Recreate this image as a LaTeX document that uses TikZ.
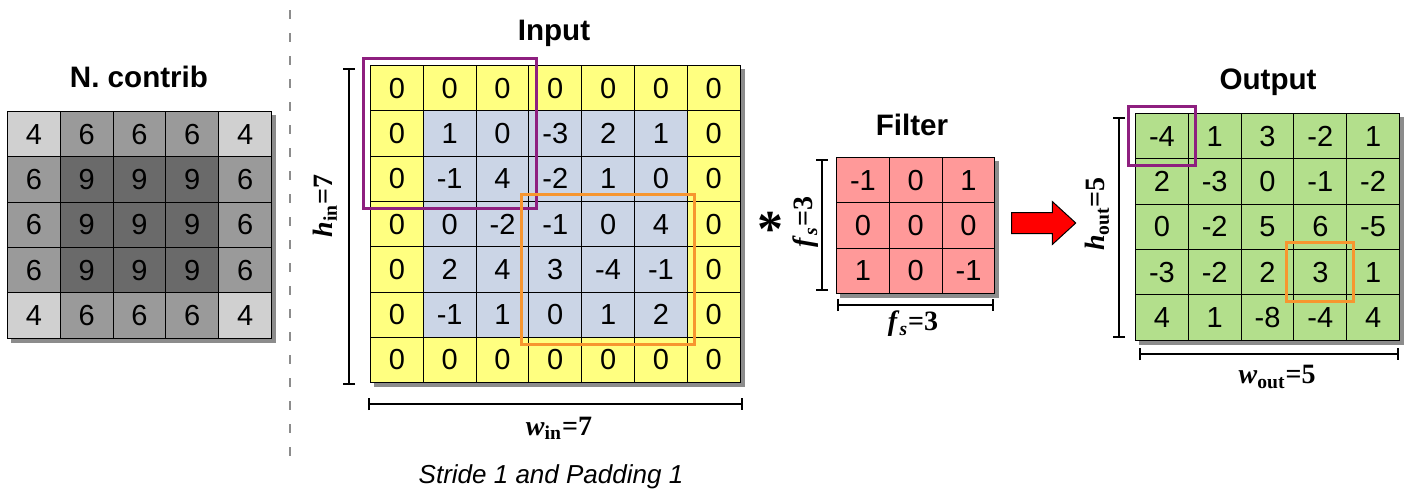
\documentclass[tikz,border=0pt]{standalone}
\usepackage{fontspec}
\setmainfont{Liberation Sans}
\newfontfamily\labfont{Liberation Serif}
\usepackage{tikz}
\usetikzlibrary{arrows.meta, positioning, fit, calc, shapes.arrows, backgrounds}

\definecolor{nc4}{HTML}{D0D0D0}
\definecolor{nc6}{HTML}{9A9A9A}
\definecolor{nc9}{HTML}{6A6A6A}
\definecolor{padyellow}{HTML}{FFFF80}
\definecolor{inblue}{HTML}{CBD5E6}
\definecolor{filtpink}{HTML}{FF9999}
\definecolor{outgreen}{HTML}{B3DF8C}
\definecolor{winpurple}{HTML}{8E1F7F}
\definecolor{winorange}{HTML}{F7962F}

\newcommand{\dimlab}[3]{{\labfont\bfseries\textit{#1}\textsubscript{#2}=#3}}

\begin{document}
\begin{tikzpicture}[x=0.5pt, y=-0.5pt,
  cell/.style={draw, line width=0.5pt, minimum width=26.4pt, minimum height=22.65pt, inner sep=0pt, anchor=north west, font=\fontsize{14.5}{16}\selectfont, fill=#1},
  gridtitle/.style={font=\bfseries\fontsize{14.8}{17}\selectfont},
  dimline/.style={{Bar[width=6pt]}-{Bar[width=6pt]}, line width=0.8pt},
  dimtext/.style={font=\fontsize{14}{16}\selectfont},
  winbox/.style={draw=#1, line width=1.5pt, inner sep=3.3pt},
  gridshadow/.style={fill=black!45},
  sepline/.style={draw=black!45, line width=1pt, dash pattern=on 4.5pt off 7pt}
]
\useasboundingbox (0,0) rectangle (1411,493);

% number of contributions
\node[gridtitle] (nctitle) at (139,77) {N. contrib};
\foreach \vals [count=\r] in {{4,6,6,6,4},{6,9,9,9,6},{6,9,9,9,6},{6,9,9,9,6},{4,6,6,6,4}}{
  \foreach \v [count=\c] in \vals
    \node[cell=nc\v] (nc-\r-\c) at ({7+(\c-1)*52.8}, {111+(\r-1)*45.3}) {\v};
}

\draw[sepline] (290,10) coordinate (sep-a) -- (290,465) coordinate (sep-b);

% padded input
\node[gridtitle] (intitle) at (554,33) {Input};
\foreach \vals [count=\r] in {{0,0,0,0,0,0,0},{0,1,0,-3,2,1,0},{0,-1,4,-2,1,0,0},{0,0,-2,-1,0,4,0},{0,2,4,3,-4,-1,0},{0,-1,1,0,1,2,0},{0,0,0,0,0,0,0}}{
  \foreach \v [count=\c] in \vals {
    \pgfmathtruncatemacro\pad{(\r==1)||(\r==7)||(\c==1)||(\c==7)}
    \ifnum\pad=1 \def\incol{padyellow}\else\def\incol{inblue}\fi
    \node[cell=\incol] (in-\r-\c) at ({370+(\c-1)*52.8}, {65+(\r-1)*45.3}) {\v};
  }
}
\node[winbox=winpurple, fit=(in-1-1)(in-3-3)] (inwin-a) {};
\node[winbox=winorange, fit=(in-4-4)(in-6-6)] (inwin-b) {};

\coordinate (hin-a) at (349,68);
\coordinate (hin-b) at (349,385);
\draw[dimline] (hin-a) -- (hin-b);
\node[dimtext, rotate=90] (hinlab) at (325,206) {\dimlab{h}{in}{7}};
\coordinate (win-a) at (368,404);
\coordinate (win-b) at (743,404);
\draw[dimline] (win-a) -- (win-b);
\node[dimtext] (winlab) at (559,428) {\dimlab{w}{in}{7}};

\node[font=\itshape\fontsize{13}{15}\selectfont] (caption) at (551,477) {Stride 1 and Padding 1};

% filter
\node[font=\labfont\bfseries\fontsize{26}{26}\selectfont] (conv) at (770,229) {*};
\node[gridtitle] (filttitle) at (912,125) {Filter};
\foreach \vals [count=\r] in {{-1,0,1},{0,0,0},{1,0,-1}}{
  \foreach \v [count=\c] in \vals
    \node[cell=filtpink] (f-\r-\c) at ({836+(\c-1)*52.8}, {157+(\r-1)*45.3}) {\v};
}
\coordinate (fsv-a) at (822,159);
\coordinate (fsv-b) at (822,291);
\draw[dimline] (fsv-a) -- (fsv-b);
\node[dimtext, rotate=90] (fsvlab) at (806,222) {{\labfont\bfseries\textit{f}\textsubscript{\textit{s}}=3}};
\coordinate (fsh-a) at (837,305);
\coordinate (fsh-b) at (994,305);
\draw[dimline] (fsh-a) -- (fsh-b);
\node[dimtext] (fshlab) at (913,324) {{\labfont\bfseries\textit{f}\textsubscript{\textit{s}}=3}};

\node[single arrow, fill=red, draw=black, line width=0.5pt, minimum height=32pt, minimum width=21pt, inner sep=5pt, single arrow head extend=5.5pt, single arrow tip angle=85] (toout) at (1038,223) {};

% output
\node[gridtitle] (outtitle) at (1268,82) {Output};
\foreach \vals [count=\r] in {{-4,1,3,-2,1},{2,-3,0,-1,-2},{0,-2,5,6,-5},{-3,-2,2,3,1},{4,1,-8,-4,4}}{
  \foreach \v [count=\c] in \vals
    \node[cell=outgreen] (out-\r-\c) at ({1135+(\c-1)*52.8}, {113+(\r-1)*45.3}) {\v};
}
\node[winbox=winpurple, fit=(out-1-1)] (outwin-a) {};
\node[winbox=winorange, fit=(out-4-4)] (outwin-b) {};

\coordinate (hout-a) at (1119,117);
\coordinate (hout-b) at (1119,338);
\draw[dimline] (hout-a) -- (hout-b);
\node[dimtext, rotate=90] (houtlab) at (1097,214) {\dimlab{h}{out}{5}};
\coordinate (wout-a) at (1139,354);
\coordinate (wout-b) at (1399,354);
\draw[dimline] (wout-a) -- (wout-b);
\node[dimtext] (woutlab) at (1277,377) {\dimlab{w}{out}{5}};

\begin{scope}[on background layer]
  \fill[gridshadow] ($(nc-1-1.north west)+(4,4)$) rectangle ($(nc-5-5.south east)+(4,4)$);
  \fill[gridshadow] ($(in-1-1.north west)+(4,4)$) rectangle ($(in-7-7.south east)+(4,4)$);
  \fill[gridshadow] ($(f-1-1.north west)+(4,4)$) rectangle ($(f-3-3.south east)+(4,4)$);
  \fill[gridshadow] ($(out-1-1.north west)+(4,4)$) rectangle ($(out-5-5.south east)+(4,4)$);
\end{scope}
\end{tikzpicture}
\end{document}
